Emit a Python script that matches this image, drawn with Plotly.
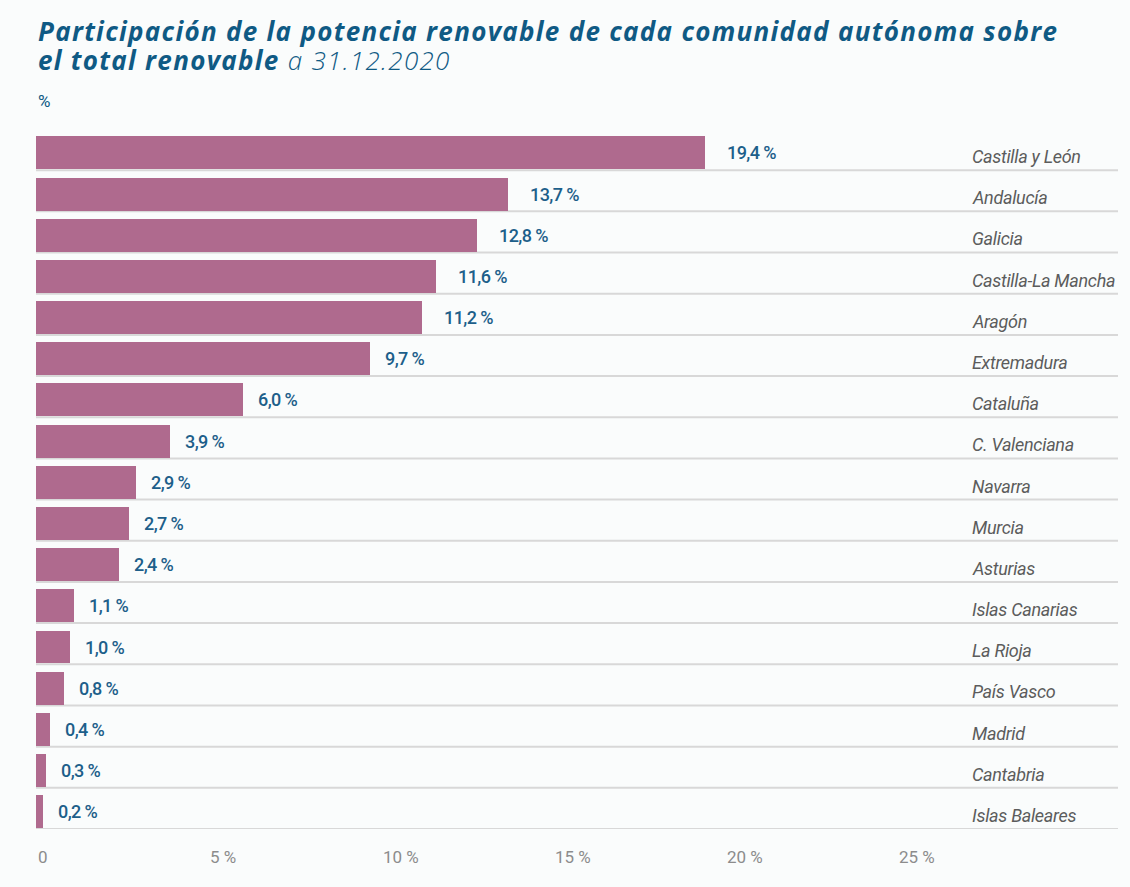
import plotly.graph_objects as go

# Share of installed renewable capacity by autonomous community, 31.12.2020
regions = [
    "Castilla y León", "Andalucía", "Galicia", "Castilla-La Mancha", "Aragón",
    "Extremadura", "Cataluña", "C. Valenciana", "Navarra", "Murcia", "Asturias",
    "Islas Canarias", "La Rioja", "País Vasco", "Madrid", "Cantabria", "Islas Baleares",
]
shares = [19.4, 13.7, 12.8, 11.6, 11.2, 9.7, 6.0, 3.9, 2.9, 2.7, 2.4, 1.1, 1.0, 0.8, 0.4, 0.3, 0.2]
tick_values = [0, 5, 10, 15, 20, 25]
tick_labels = ["0", "5 %", "10 %", "15 %", "20 %", "25 %"]

BAR = "#af6a8e"
BLUE = "#0f5a84"
VALUE_BLUE = "#1d5f8a"
GREY = "#5c5c5c"
TICK_GREY = "#8c8c8c"
GRID = "#d8d8d8"
BG = "#fafcfc"

LABEL_FONT = "Roboto, sans-serif"
TITLE_FONT = "Open Sans, sans-serif"


def spaced(text, px):
    """Wrap text in a span with the given letter spacing."""
    return f'<span style="letter-spacing:{px}px">{text}</span>'


idx = list(range(len(regions)))

fig = go.Figure()
fig.add_trace(go.Bar(
    x=shares,
    y=idx,
    orientation="h",
    marker=dict(color=BAR, line=dict(width=0)),
    width=0.8,
    offset=-0.32,
    hoverinfo="skip",
))

annotations = []

# value labels to the right of each bar
for i, v in enumerate(shares):
    gap = 20 if v >= 10 else 13
    annotations.append(dict(
        x=v, y=i + 0.08, xref="x", yref="y",
        text=spaced(f"{v:.1f}".replace(".", ",") + " %", -0.6),
        showarrow=False, xanchor="left", yanchor="middle", xshift=gap,
        font=dict(family=LABEL_FONT, size=18, color=VALUE_BLUE, weight=500),
    ))

# community names, left-aligned near the right edge
for i, name in enumerate(regions):
    annotations.append(dict(
        x=0.863, y=i, xref="paper", yref="y",
        text=spaced(f"<i>{name}</i>", -0.3),
        showarrow=False, xanchor="left", yanchor="middle", yshift=-7,
        font=dict(family=LABEL_FONT, size=18, color=GREY),
    ))

# x-axis tick labels, left-aligned at their tick positions
for tv, tl in zip(tick_values, tick_labels):
    annotations.append(dict(
        x=tv, y=0, xref="x", yref="paper",
        text=tl, showarrow=False, xanchor="left", yanchor="middle", yshift=-28,
        font=dict(family=LABEL_FONT, size=17, color=TICK_GREY),
    ))

# title lines and unit
annotations.append(dict(
    x=0, y=1, xref="paper", yref="paper",
    text=spaced("<b><i>Participación de la potencia renovable de cada comunidad autónoma sobre</i></b>", 1.3),
    showarrow=False, xanchor="left", yanchor="middle", yshift=98,
    font=dict(family=TITLE_FONT, size=26, color=BLUE),
))
annotations.append(dict(
    x=0, y=1, xref="paper", yref="paper",
    text=spaced("<b><i>el total renovable</i></b>"
                '<span style="font-weight:300"><i> a 31.12.2020</i></span>', 1.3),
    showarrow=False, xanchor="left", yanchor="middle", yshift=69,
    font=dict(family=TITLE_FONT, size=26, color=BLUE),
))
annotations.append(dict(
    x=0, y=1, xref="paper", yref="paper",
    text="%",
    showarrow=False, xanchor="left", yanchor="middle", yshift=28,
    font=dict(family=LABEL_FONT, size=17, color=BLUE),
))

# horizontal separators beneath each row
shapes = [
    dict(type="line", xref="paper", yref="y", x0=0, x1=1, y0=i + 0.5, y1=i + 0.5,
         line=dict(color=GRID, width=2), layer="below")
    for i in idx
]

fig.update_layout(
    width=1130, height=887,
    margin=dict(l=36, r=12, t=129, b=58),
    paper_bgcolor=BG, plot_bgcolor=BG,
    showlegend=False,
    bargap=0,
    xaxis=dict(range=[0, 31.4], showgrid=False, zeroline=False, showticklabels=False,
               ticks="", showline=False, fixedrange=True),
    yaxis=dict(range=[16.5, -0.5], showgrid=False, zeroline=False, showticklabels=False,
               ticks="", showline=False, fixedrange=True),
    annotations=annotations,
    shapes=shapes,
)

fig.write_html("out.html")
